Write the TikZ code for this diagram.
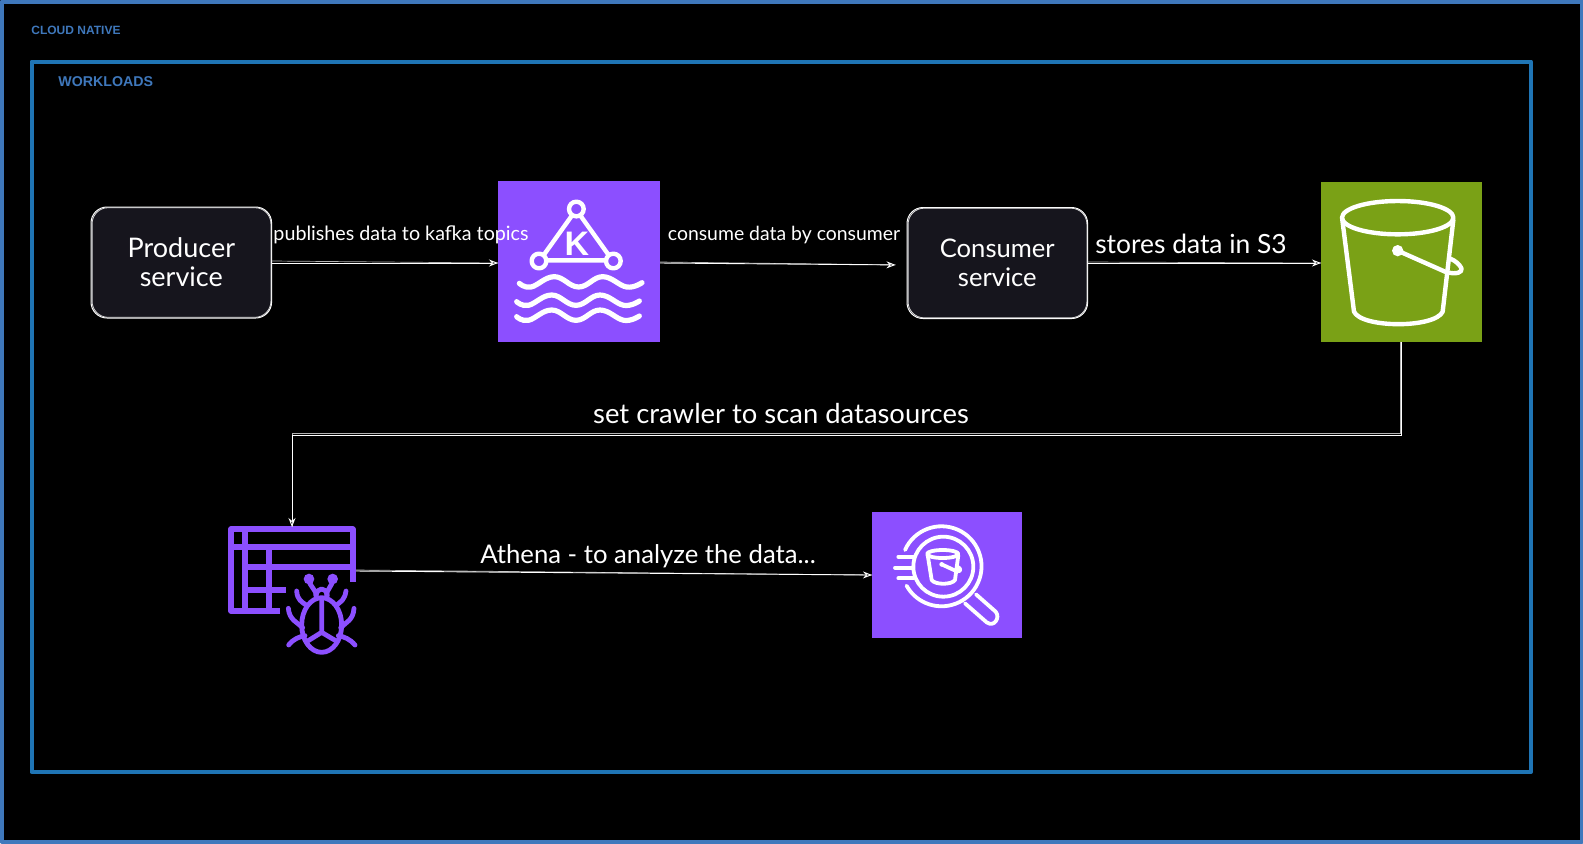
\documentclass[tikz,border=0pt]{standalone}
\usepackage{fontspec}
\setmainfont{Lato}
\newfontfamily\labelfont{Liberation Sans}
\usetikzlibrary{arrows.meta}
\definecolor{awspurple}{HTML}{8C4FFF}
\definecolor{awsgreen}{HTML}{7AA116}
\definecolor{outerblue}{HTML}{3F78BC}
\definecolor{innerblue}{HTML}{1F75B5}
\definecolor{groupblue}{HTML}{3F78BC}
\definecolor{boxfill}{HTML}{16151D}
\tikzset{
  groupframe/.style={line width=2pt,line join=round},
  grouplabel/.style={text=groupblue,font=\labelfont\bfseries,inner sep=0pt,anchor=west},
  servicebox/.style={draw=white,line width=.5pt,fill=boxfill,rounded corners=8pt,minimum width=90.3pt,minimum height=55.5pt,inner sep=0pt,anchor=north west,text=white,align=center},
  roughline/.style={draw=white!85!black,line width=.4pt,rounded corners=8pt},
  iconbox/.style={inner sep=0pt,outer sep=0pt,anchor=north west},
  link/.style={draw=white,line width=.45pt,-{Stealth[open,length=4.5pt,width=3.5pt]}},
  linkback/.style={draw=white!70!black,line width=.35pt},
  edgetext/.style={text=white,inner sep=0pt},
  iconline/.style={draw=white,line cap=round,line join=round,line width=2.2pt},
  waveline/.style={draw=white,line cap=round,line join=round,line width=2.6pt},
  thinicon/.style={draw=white,line cap=round,line join=round,line width=1.9pt},
  gridline/.style={draw=awspurple,line width=2.9pt},
  bugline/.style={draw=awspurple,line width=2.4pt,line cap=round,line join=round},
}
\begin{document}
\begin{tikzpicture}[x=.5pt,y=-.5pt]
\useasboundingbox (0,0) rectangle (1583,843);
\fill[black] (0,0) rectangle (1583,843);
\draw[groupframe,outerblue] (1.5,1.5) rectangle (1581.5,841.5);
\draw[groupframe,innerblue] (31.5,61.5) rectangle (1531,772);
\node[grouplabel,font=\labelfont\bfseries\fontsize{6}{7}\selectfont] (cloudlabel) at (31,30.5) {CLOUD NATIVE};
\node[grouplabel,font=\labelfont\bfseries\fontsize{7.1}{8}\selectfont] (workloadlabel) at (58,82) {WORKLOADS};

% service boxes
\node[servicebox,font=\fontsize{13.5}{14.5}\selectfont] (producer) at (90.5,206.5) {Producer\\service};
\node[servicebox,font=\fontsize{12.8}{14.5}\selectfont] (consumer) at (906.5,207) {Consumer\\service};
\draw[roughline] ([shift={(.8pt,-.6pt)}]producer.north west) rectangle ([shift={(-.6pt,.6pt)}]producer.south east);
\draw[roughline] ([shift={(.8pt,-.6pt)}]consumer.north west) rectangle ([shift={(-.6pt,.6pt)}]consumer.south east);

% icon tiles
\node[iconbox,fill=awspurple,minimum width=81pt,minimum height=80.5pt] (kafka) at (498,181) {};
\node[iconbox,fill=awsgreen,minimum width=80.5pt,minimum height=80pt] (sthree) at (1321,182) {};
\node[iconbox,fill=awspurple,minimum width=75pt,minimum height=63pt] (athena) at (872,512) {};
\node[iconbox,minimum width=64pt,minimum height=63pt] (glue) at (228,527) {};
\coordinate (sthreeout) at (sthree.south);
\coordinate (corner1) at (sthree.south |- 0,435);
\coordinate (gluein) at (292,527);
\coordinate (corner2) at (gluein |- 0,435);
\coordinate (glueout) at (356,571);

% Kafka icon
\begin{scope}[shift={(480,170)},x=.5pt/3,y=-.5pt/3]
  \draw[iconline] (277,135) -- (189,258) (300,135) -- (388,258) (200,271) -- (378,271);
  \draw[iconline,fill=awspurple] (289,117) circle (22);
  \draw[iconline,fill=awspurple] (177,273) circle (22);
  \draw[iconline,fill=awspurple] (400,273) circle (22);
  \node[text=white,font=\labelfont\bfseries\fontsize{17}{17}\selectfont,inner sep=0pt] (kafkak) at (291,220) {K};
  \foreach \wx/\wy in {118/340,110/395,110/440}{
    \draw[waveline] plot[smooth,tension=.7] coordinates {(\wx,\wy) ({\wx+35},{\wy+11}) ({\wx+105},{\wy-20}) ({\wx+178},{\wy+11}) ({\wx+250},{\wy-20}) ({\wx+322},{\wy+11}) ({\wx+368},{\wy-2})};
  }
\end{scope}

% S3 icon
\begin{scope}[shift={(1290,170)},x=.5pt/3,y=-.5pt/3]
  \draw[iconline] (323,143) ellipse (167 and 50);
  \draw[iconline] (157,150) -- (192,425) .. controls (215,475) and (435,475) .. (458,425) -- (490,150);
  \fill[white] (323,242) circle (17);
  \draw[iconline] (323,242) -- (465,305) .. controls (500,316) and (520,306) .. (514,294) .. controls (508,282) and (495,272) .. (483,267);
\end{scope}

% Glue crawler icon
\begin{scope}[shift={(210,505)},x=.5pt/3,y=-.5pt/3]
  \draw[gridline,line join=round] (210,317) -- (63,317) -- (63,73) -- (428,73) -- (428,230);
  \draw[gridline] (63,125) -- (428,125) (106,186) -- (420,186) (106,256) -- (228,256) (106,73) -- (106,317) (176,125) -- (176,317);
  \fill[awspurple] (297,222) circle (16) (368,222) circle (16);
  \draw[bugline] (297,222) .. controls (297,245) and (318,250) .. (318,272) (368,222) .. controls (368,245) and (350,250) .. (350,272);
  \draw[bugline] (318,272) .. controls (322,245) and (348,245) .. (352,272);
  \draw[bugline] (335,360) ellipse (60 and 82);
  \draw[bugline] (335,280) -- (335,382) -- (290,410) (335,382) -- (382,410);
  \draw[bugline] (260,258) .. controls (262,285) and (275,290) .. (288,300) (408,258) .. controls (404,285) and (392,290) .. (380,300);
  \draw[bugline] (235,310) .. controls (238,345) and (262,352) .. (278,368) (432,310) .. controls (430,345) and (408,352) .. (392,368);
  \draw[bugline] (236,420) .. controls (250,402) and (268,395) .. (285,392) (435,420) .. controls (420,402) and (402,395) .. (385,392);
\end{scope}

% Athena icon
\begin{scope}[shift={(850,495)},x=.5pt/3,y=-.5pt/3]
  \draw[thinicon] (165,165) arc[start angle=-156,end angle=151,radius=120];
  \draw[thinicon] (280,215) circle (90);
  \draw[thinicon] (145,185) -- (190,185) (135,218) -- (185,218) (145,250) -- (190,250);
  \draw[thinicon] (378,298) -- (437,350) .. controls (452,368) and (432,398) .. (410,382) -- (345,325);
  \draw[thinicon] (278,177) ellipse (47 and 12);
  \draw[thinicon] (233,180) -- (245,255) .. controls (255,270) and (305,270) .. (315,255) -- (325,180);
  \fill[white] (275,208) circle (7);
  \draw[thinicon] (275,208) -- (318,228) .. controls (335,232) and (335,220) .. (320,214);
\end{scope}

% connectors
\draw[linkback] (producer.east |- 0,261) -- (kafka.west |- 0,263);
\draw[link] (producer.east |- 0,263) -- (kafka.west |- 0,263);
\draw[linkback,shorten >=5.5pt] (kafka.east |- 0,262) -- (consumer.west |- 0,265);
\draw[link,shorten >=5.5pt] (kafka.east |- 0,263) -- (consumer.west |- 0,265);
\draw[linkback] (consumer.east |- 0,262) -- (sthree.west |- 0,263);
\draw[link] (consumer.east |- 0,263) -- (sthree.west |- 0,263);
\draw[linkback] ([xshift=-.4pt]sthreeout) -- ([xshift=-.4pt,yshift=.6pt]corner1) -- ([xshift=.4pt,yshift=.6pt]corner2) -- ([xshift=.4pt]gluein);
\draw[link] (sthreeout) -- (corner1) -- (corner2) -- (gluein);
\draw[linkback] ([yshift=.5pt]glueout) -- (athena.west |- 0,575);
\draw[link] (glueout) -- (athena.west |- 0,575);

% labels
\node[edgetext,font=\fontsize{9.85}{11}\selectfont] (pubtext) at (401,235) {publishes data to kafka topics};
\node[edgetext,font=\fontsize{9.7}{11}\selectfont] (constext) at (784,235) {consume data by consumer};
\node[edgetext,font=\fontsize{13.2}{15}\selectfont] (storetext) at (1191,244) {stores data in S3};
\node[edgetext,font=\fontsize{13.7}{15}\selectfont] (crawltext) at (781,414) {set crawler to scan datasources};
\node[edgetext,font=\fontsize{12.85}{15}\selectfont] (athtext) at (648,556) {Athena - to analyze the data...};
\end{tikzpicture}
\end{document}
